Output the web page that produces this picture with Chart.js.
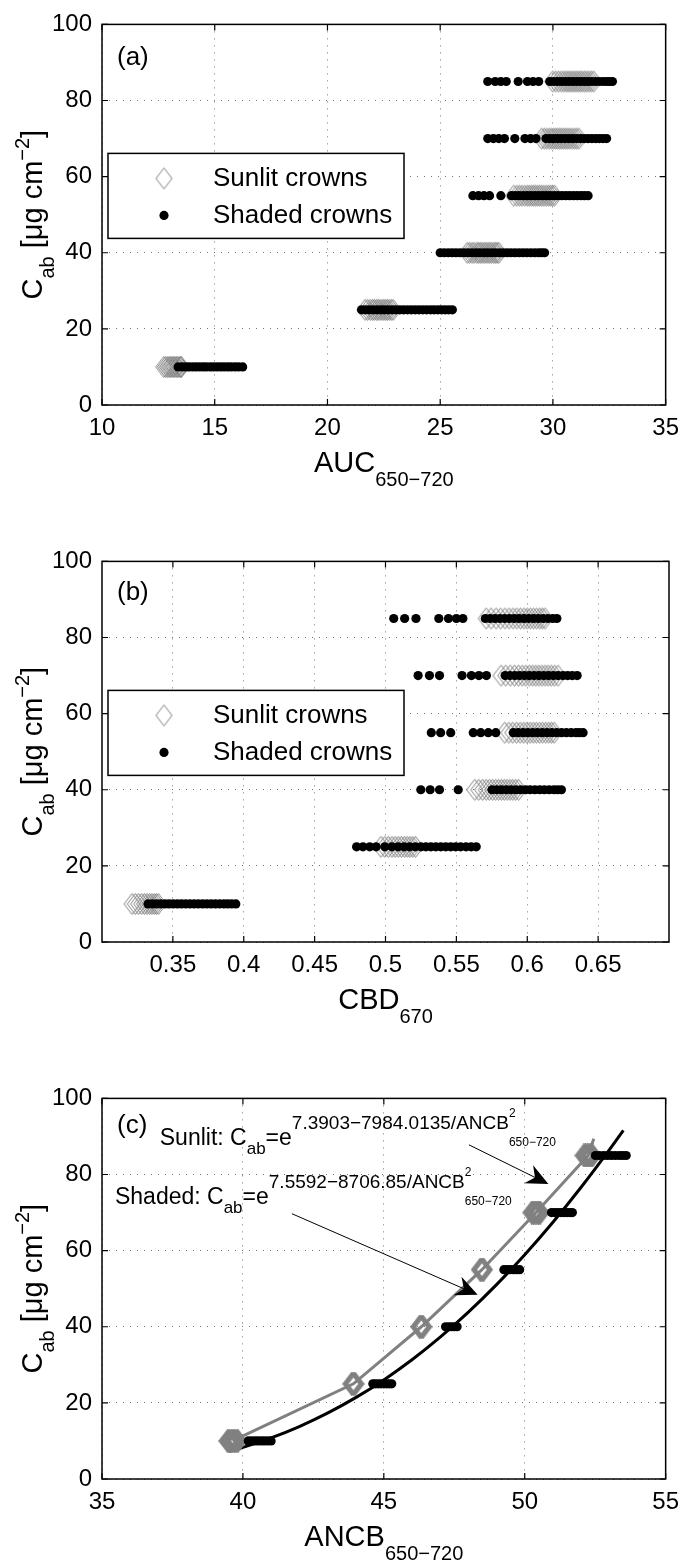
<!DOCTYPE html>
<html lang="en">
<head>
<meta charset="UTF-8" />
<title>Cab versus spectral indices</title>
<script src="https://cdn.jsdelivr.net/npm/chart.js"></script>
<style>
  body { margin: 0; background: #fff; }
  #wrap { position: relative; width: 688px; height: 1562px; }
  #wrap canvas { position: absolute; left: 0; }
</style>
</head>
<body>
<div id="wrap">
  <canvas id="chartA" width="688" height="537" style="top:0px"></canvas>
  <canvas id="chartB" width="688" height="537" style="top:537px"></canvas>
  <canvas id="chartC" width="688" height="488" style="top:1074px"></canvas>
</div>
<script>
// chlorophyll levels (rows of every panel) and y ticks
const cabLevels = [10, 25, 40, 55, 70, 85];
const yTicks = [0, 20, 40, 60, 80, 100];

// (a) AUC 650-720, one row of x values per Cab level
const aucTicks = [10, 15, 20, 25, 30, 35];
const aucSunlit = [
  [12.74, 12.82, 12.9, 12.97, 13.03, 13.1, 13.16, 13.22, 13.29, 13.35, 13.42, 13.48, 13.52],
  [21.67, 21.78, 21.9, 22.0, 22.08, 22.17, 22.25, 22.33, 22.42, 22.5, 22.58, 22.66, 22.74, 22.83, 22.91],
  [26.2, 26.3, 26.41, 26.5, 26.62, 26.7, 26.78, 26.86, 26.95, 27.03, 27.12, 27.2, 27.28, 27.37, 27.45, 27.52, 27.6],
  [28.26, 28.4, 28.52, 28.63, 28.75, 28.86, 28.95, 29.05, 29.14, 29.23, 29.32, 29.41, 29.5, 29.6, 29.7, 29.8, 29.89, 29.98, 30.07],
  [29.5, 29.62, 29.73, 29.84, 29.94, 30.03, 30.12, 30.21, 30.3, 30.39, 30.48, 30.57, 30.66, 30.75, 30.85, 30.95, 31.05, 31.15],
  [29.99, 30.12, 30.25, 30.37, 30.48, 30.58, 30.67, 30.76, 30.85, 30.94, 31.03, 31.12, 31.21, 31.3, 31.4, 31.5, 31.6, 31.7, 31.81]
];
const aucShaded = [
  [13.38, 13.55, 13.71, 13.86, 14.02, 14.17, 14.33, 14.49, 14.63, 14.8, 14.95, 15.11, 15.27, 15.42, 15.58, 15.73, 15.9, 16.06, 16.24],
  [21.51, 21.68, 21.85, 22.02, 22.2, 22.37, 22.53, 22.7, 22.87, 23.04, 23.21, 23.38, 23.55, 23.72, 23.89, 24.06, 24.23, 24.4, 24.57, 24.73, 24.9, 25.06, 25.22, 25.38, 25.54],
  [25.0, 25.18, 25.36, 25.53, 25.7, 25.88, 26.05, 26.23, 26.4, 26.58, 26.75, 26.93, 27.1, 27.28, 27.45, 27.63, 27.8, 27.97, 28.14, 28.32, 28.5, 28.67, 28.84, 29.02, 29.2, 29.37, 29.5, 29.63],
  [26.45, 26.7, 26.94, 27.19, 27.69, 28.16, 28.33, 28.5, 28.68, 28.85, 29.02, 29.2, 29.37, 29.54, 29.71, 29.88, 30.05, 30.22, 30.4, 30.57, 30.74, 30.91, 31.08, 31.25, 31.4, 31.56],
  [27.11, 27.36, 27.6, 27.85, 28.31, 28.76, 29.01, 29.25, 29.69, 29.86, 30.03, 30.2, 30.37, 30.54, 30.71, 30.88, 31.05, 31.22, 31.39, 31.56, 31.73, 31.9, 32.06, 32.22, 32.38],
  [27.11, 27.44, 27.69, 27.93, 28.46, 28.87, 29.12, 29.37, 29.86, 30.03, 30.2, 30.37, 30.54, 30.71, 30.88, 31.05, 31.22, 31.39, 31.56, 31.73, 31.9, 32.07, 32.24, 32.4, 32.52, 32.64]
];

// (b) CBD 670
const cbdTicks = [0.35, 0.4, 0.45, 0.5, 0.55, 0.6, 0.65];
const cbdSunlit = [
  [0.3212, 0.3235, 0.3258, 0.328, 0.33, 0.3318, 0.3336, 0.3352, 0.3368, 0.3383, 0.3397],
  [0.4968, 0.4995, 0.502, 0.5045, 0.5068, 0.509, 0.5112, 0.5133, 0.5153, 0.5173, 0.5193, 0.5212],
  [0.563, 0.5658, 0.5685, 0.571, 0.5733, 0.5755, 0.5777, 0.5798, 0.5818, 0.5838, 0.5858, 0.5878, 0.5898, 0.5918, 0.5939],
  [0.5841, 0.587, 0.5898, 0.5925, 0.595, 0.5974, 0.5997, 0.602, 0.6042, 0.6064, 0.6086, 0.6108, 0.613, 0.6151, 0.6171, 0.619],
  [0.5815, 0.5848, 0.588, 0.591, 0.5938, 0.5965, 0.599, 0.6015, 0.6038, 0.606, 0.6082, 0.6104, 0.6126, 0.6148, 0.617, 0.6193, 0.6217],
  [0.571, 0.5745, 0.578, 0.5812, 0.5843, 0.5872, 0.59, 0.5926, 0.5952, 0.5977, 0.6, 0.6022, 0.6044, 0.6066, 0.6088, 0.6107, 0.6125]
];
const cbdShaded = [
  [0.3325, 0.3355, 0.3385, 0.3414, 0.3444, 0.3473, 0.3502, 0.3532, 0.3561, 0.359, 0.362, 0.365, 0.368, 0.371, 0.374, 0.377, 0.38, 0.383, 0.386, 0.3887, 0.3915, 0.3944],
  [0.4796, 0.4841, 0.4889, 0.4934, 0.4995, 0.5045, 0.5088, 0.513, 0.517, 0.521, 0.525, 0.5285, 0.532, 0.5355, 0.539, 0.5425, 0.546, 0.5495, 0.553, 0.5568, 0.5604, 0.564],
  [0.5249, 0.5315, 0.5381, 0.5513, 0.5751, 0.5785, 0.5818, 0.5852, 0.5886, 0.592, 0.5953, 0.5987, 0.602, 0.6054, 0.6088, 0.6121, 0.6155, 0.6189, 0.6215, 0.6241],
  [0.5323, 0.5389, 0.546, 0.5619, 0.5672, 0.5725, 0.5778, 0.5902, 0.5936, 0.597, 0.6004, 0.6038, 0.6072, 0.6106, 0.614, 0.6174, 0.6208, 0.6242, 0.6276, 0.631, 0.6344, 0.6368, 0.6394],
  [0.523, 0.531, 0.5381, 0.554, 0.5606, 0.5659, 0.5712, 0.5844, 0.5878, 0.5912, 0.5946, 0.598, 0.6014, 0.6048, 0.6082, 0.6116, 0.615, 0.6184, 0.6218, 0.6252, 0.6285, 0.6318, 0.6352],
  [0.5058, 0.5135, 0.5215, 0.5376, 0.5444, 0.55, 0.5546, 0.5704, 0.5738, 0.5772, 0.5806, 0.584, 0.5874, 0.5908, 0.5942, 0.5976, 0.601, 0.6044, 0.6078, 0.6112, 0.6146, 0.618, 0.6209]
];

// (c) ANCB 650-720 with the two fitted curves
const ancbTicks = [35, 40, 45, 50, 55];
const ancbSunlit = [
  [39.46, 39.52, 39.58, 39.64, 39.7, 39.76, 39.82],
  [43.86, 43.92, 43.98],
  [46.27, 46.33, 46.39],
  [48.42, 48.48, 48.54],
  [50.25, 50.31, 50.37, 50.43, 50.49, 50.55],
  [52.1, 52.16, 52.22, 52.28, 52.34, 52.4]
];
const ancbShaded = [
  [40.19, 40.3, 40.42, 40.53, 40.65, 40.76, 40.88, 41.0],
  [44.61, 44.7, 44.8, 44.9, 45.0, 45.1, 45.19, 45.28],
  [47.19, 47.3, 47.4, 47.5, 47.6],
  [49.26, 49.37, 49.48, 49.6, 49.71, 49.82],
  [50.95, 51.06, 51.17, 51.28, 51.39, 51.5, 51.6, 51.69],
  [52.51, 52.65, 52.8, 52.94, 53.08, 53.22, 53.36, 53.48, 53.6]
];
const sunlitFitX = [39.63, 43.92, 46.33, 48.48, 50.4, 52.25, 52.45];
const sunlitFitY = [10, 25, 40, 55, 70, 85, 89.4];
const shadedFitX = [39.5, 40, 41, 42, 43, 44, 45, 46, 47, 48, 49, 50, 51, 52, 53, 53.5];
const shadedFitY = [7.23, 8.31, 10.8, 13.78, 17.29, 21.37, 26.04, 31.32, 37.25, 43.83, 51.06, 58.94, 67.47, 76.65, 86.46, 91.6];

const FONT = "'Liberation Sans', Arial, Helvetica, sans-serif";
const GRAY = '#808080';

// open diamond marker like matlab's 'd'
function makeDiamond(w, h, lw) {
  const c = document.createElement('canvas');
  c.width = w + 3; c.height = h + 3;
  const g = c.getContext('2d');
  g.strokeStyle = GRAY;
  g.lineWidth = lw;
  g.beginPath();
  g.moveTo(c.width / 2, 1.5);
  g.lineTo(c.width - 1.5, c.height / 2);
  g.lineTo(c.width / 2, c.height - 1.5);
  g.lineTo(1.5, c.height / 2);
  g.closePath();
  g.stroke();
  return c;
}
const diamondThin = makeDiamond(16, 21, 1);
const diamondThick = makeDiamond(16, 21, 2.4);

function rows(xRows) {
  const pts = [];
  xRows.forEach((row, i) => row.forEach(v => pts.push({ x: v, y: cabLevels[i] })));
  return pts;
}
function pairs(xs, ys) {
  return xs.map((v, i) => ({ x: v, y: ys[i] }));
}

// text with sub/superscripts: [text, size, dy, noAdvance]
function richWidth(ctx, parts) {
  let w = 0;
  parts.forEach(p => {
    ctx.font = p[1] + 'px ' + FONT;
    if (!p[3]) w += ctx.measureText(p[0]).width;
  });
  return w;
}
function drawRich(ctx, parts, x, y) {
  let cx = x;
  parts.forEach(p => {
    ctx.font = p[1] + 'px ' + FONT;
    ctx.fillText(p[0], cx, y + p[2]);
    if (!p[3]) cx += ctx.measureText(p[0]).width;
  });
}

const yLabel = [['C', 29, 0], ['ab', 20, 12], [' [\u03bcg cm', 29, 0], ['\u22122', 20, -13], [']', 29, 0]];

const matlabFrame = {
  id: 'matlabFrame',
  afterDraw(chart, args, o) {
    const { ctx, chartArea: a, scales: { x, y } } = chart;
    ctx.save();
    // box and inward ticks
    ctx.strokeStyle = '#000';
    ctx.lineWidth = 1.5;
    ctx.strokeRect(a.left, a.top, a.right - a.left, a.bottom - a.top);
    ctx.lineWidth = 1.2;
    ctx.beginPath();
    x.ticks.forEach(t => {
      const px = x.getPixelForValue(t.value);
      ctx.moveTo(px, a.bottom); ctx.lineTo(px, a.bottom - 6);
      ctx.moveTo(px, a.top); ctx.lineTo(px, a.top + 6);
    });
    y.ticks.forEach(t => {
      const py = y.getPixelForValue(t.value);
      ctx.moveTo(a.left, py); ctx.lineTo(a.left + 6, py);
      ctx.moveTo(a.right, py); ctx.lineTo(a.right - 6, py);
    });
    ctx.stroke();

    ctx.fillStyle = '#000';
    ctx.textBaseline = 'alphabetic';
    ctx.textAlign = 'left';

    // panel tag
    ctx.font = '26px ' + FONT;
    ctx.fillText(o.tag, a.left + 15, a.top + o.tagY);

    // x label
    const xw = richWidth(ctx, o.xLabel);
    drawRich(ctx, o.xLabel, (a.left + a.right) / 2 - xw / 2, a.bottom + 67);

    // y label
    const yw = richWidth(ctx, yLabel);
    ctx.save();
    ctx.translate(42, (a.top + a.bottom) / 2);
    ctx.rotate(-Math.PI / 2);
    drawRich(ctx, yLabel, -yw / 2, 0);
    ctx.restore();

    // legend box
    if (o.legend) {
      const lx = 108, ly = a.top + 129, lw = 296, lh = 85;
      ctx.fillStyle = '#fff';
      ctx.fillRect(lx, ly, lw, lh);
      ctx.strokeStyle = '#000';
      ctx.lineWidth = 1.5;
      ctx.strokeRect(lx, ly, lw, lh);
      ctx.drawImage(diamondThin, 164 - diamondThin.width / 2, ly + 25 - diamondThin.height / 2);
      ctx.fillStyle = '#000';
      ctx.beginPath();
      ctx.arc(164, ly + 62, 4.6, 0, Math.PI * 2);
      ctx.fill();
      ctx.font = '26px ' + FONT;
      ctx.textBaseline = 'middle';
      ctx.fillText('Sunlit crowns', 213, ly + 25);
      ctx.fillText('Shaded crowns', 213, ly + 62);
      ctx.textBaseline = 'alphabetic';
    }

    // equations and arrows (panel c)
    (o.notes || []).forEach(n => {
      drawRich(ctx, n.parts, x.getPixelForValue(n.at[0]), y.getPixelForValue(n.at[1]));
    });
    (o.arrows || []).forEach(ar => {
      const x0 = x.getPixelForValue(ar[0]), y0 = y.getPixelForValue(ar[1]);
      const x1 = x.getPixelForValue(ar[2]), y1 = y.getPixelForValue(ar[3]);
      const len = Math.hypot(x1 - x0, y1 - y0);
      const ux = (x1 - x0) / len, uy = (y1 - y0) / len;
      const nx = -uy, ny = ux;
      const L = 22, W = 10, N = 7;
      ctx.strokeStyle = '#000';
      ctx.lineWidth = 1;
      ctx.beginPath();
      ctx.moveTo(x0, y0);
      ctx.lineTo(x1 - (L - N) * ux, y1 - (L - N) * uy);
      ctx.stroke();
      ctx.beginPath();
      ctx.moveTo(x1, y1);
      ctx.lineTo(x1 - L * ux + W * nx, y1 - L * uy + W * ny);
      ctx.lineTo(x1 - (L - N) * ux, y1 - (L - N) * uy);
      ctx.lineTo(x1 - L * ux - W * nx, y1 - L * uy - W * ny);
      ctx.closePath();
      ctx.fill();
    });
    ctx.restore();
  }
};

function axis(min, max, ticks, fit) {
  return {
    type: 'linear', min: min, max: max,
    afterBuildTicks: s => { s.ticks = ticks.map(v => ({ value: v })); },
    afterFit: fit,
    grid: { color: 'rgba(0,0,0,0.55)', lineWidth: 1, drawTicks: false },
    border: { display: false, dash: [1, 6] },
    ticks: {
      autoSkip: false, maxRotation: 0, color: '#000',
      font: { family: FONT, size: 24 },
      callback: v => String(v)
    }
  };
}

function makeChart(id, h, xMin, xMax, xTicks, sets, frame) {
  const xAxis = axis(xMin, xMax, xTicks, s => { s.height = h - 405; });
  xAxis.ticks.padding = 9;
  const yAxis = axis(0, 100, yTicks, s => { s.width = 102; });
  yAxis.ticks.padding = 10;
  return new Chart(document.getElementById(id), {
    type: 'scatter',
    data: { datasets: sets },
    options: {
      responsive: false,
      animation: false,
      layout: { padding: { top: 19, right: 19, bottom: 0, left: 0 } },
      plugins: { legend: { display: false }, tooltip: { enabled: false }, matlabFrame: frame },
      scales: { x: xAxis, y: yAxis }
    },
    plugins: [matlabFrame]
  });
}

function markerSets(sunlit, shaded, diamond) {
  return [
    { label: 'Shaded crowns', data: rows(shaded), pointStyle: 'circle', pointRadius: 4.6,
      backgroundColor: '#000', borderWidth: 0, order: 0 },
    { label: 'Sunlit crowns', data: rows(sunlit), pointStyle: diamond, pointRadius: 8,
      borderWidth: 0, order: 1 }
  ];
}

makeChart('chartA', 537, 10, 35, aucTicks, markerSets(aucSunlit, aucShaded, diamondThin), {
  tag: '(a)', tagY: 41, legend: true,
  xLabel: [['AUC', 29, 0], ['650\u2212720', 20, 14]]
});

makeChart('chartB', 537, 0.3, 0.7, cbdTicks, markerSets(cbdSunlit, cbdShaded, diamondThin), {
  tag: '(b)', tagY: 39, legend: true,
  xLabel: [['CBD', 29, 0], ['670', 20, 14]]
});

const setsC = markerSets(ancbSunlit, ancbShaded, diamondThick).concat([
  { label: 'Sunlit fit', data: pairs(sunlitFitX, sunlitFitY), showLine: true, borderColor: GRAY,
    borderWidth: 3, pointRadius: 0, tension: 0, order: 2 },
  { label: 'Shaded fit', data: pairs(shadedFitX, shadedFitY), showLine: true, borderColor: '#000',
    borderWidth: 3, pointRadius: 0, cubicInterpolationMode: 'monotone', order: 3 }
]);

makeChart('chartC', 488, 35, 55, ancbTicks, setsC, {
  tag: '(c)', tagY: 35, legend: false,
  xLabel: [['ANCB', 29, 0], ['650\u2212720', 20, 14]],
  notes: [
    { at: [37.05, 87.8], parts: [['Sunlit: C', 23, 0], ['ab', 17, 9], ['=e', 23, 0],
      ['7.3903\u22127984.0135/ANCB', 19, -16], ['2', 12, -28, 1], ['650\u2212720', 12, 1]] },
    { at: [35.46, 72.3], parts: [['Shaded: C', 23, 0], ['ab', 17, 9], ['=e', 23, 0],
      ['7.5592\u22128706.85/ANCB', 19, -16], ['2', 12, -28, 1], ['650\u2212720', 12, 1]] }
  ],
  arrows: [[48.02, 87.8, 50.84, 77.5], [41.74, 69.7, 48.33, 48.4]]
});
</script>
</body>
</html>
